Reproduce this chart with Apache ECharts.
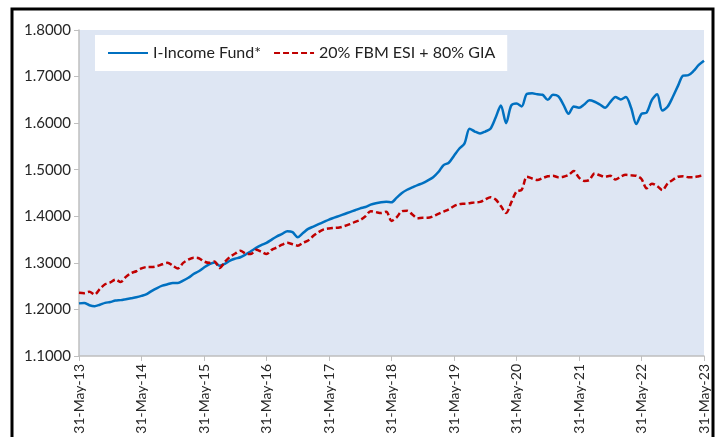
<!DOCTYPE html>
<html lang="en">
<head>
    <meta charset="UTF-8">
    <title>I-Income Fund</title>
    <script src="https://cdn.jsdelivr.net/npm/echarts@6/dist/echarts.min.js"></script>
    <style>
        body { margin: 0; background: #fff; }
    </style>
</head>
<body>
<div id="main" style="width: 719px;height:437px;"></div>
<script type="text/javascript">

    // monthly month-end dates, May 2013 .. May 2023
    var monthNames = ['Jan', 'Feb', 'Mar', 'Apr', 'May', 'Jun', 'Jul', 'Aug', 'Sep', 'Oct', 'Nov', 'Dec'];
    var monthDays = [31, 28, 31, 30, 31, 30, 31, 31, 30, 31, 30, 31];
    var startYear = 2013, startMonth = 4, monthCount = 121;

    var fundName = 'I-Income Fund*';
    var benchName = '20% FBM ESI + 80% GIA';

    var fundValues = [
        1.213, 1.214, 1.209, 1.207, 1.210, 1.214, 1.216, 1.219, 1.220, 1.222, 1.224, 1.226,
        1.229, 1.233, 1.240, 1.246, 1.251, 1.254, 1.257, 1.257, 1.262, 1.268, 1.276, 1.282,
        1.290, 1.297, 1.301, 1.294, 1.298, 1.305, 1.309, 1.312, 1.318, 1.325, 1.332, 1.338,
        1.343, 1.350, 1.357, 1.362, 1.368, 1.366, 1.355, 1.364, 1.373, 1.378, 1.383, 1.388,
        1.393, 1.397, 1.401, 1.405, 1.409, 1.413, 1.417, 1.420, 1.425, 1.428, 1.430, 1.431,
        1.430, 1.440, 1.450, 1.457, 1.462, 1.467, 1.471, 1.477, 1.484, 1.495, 1.510, 1.515,
        1.530, 1.545, 1.556, 1.588, 1.582, 1.578, 1.582, 1.588, 1.612, 1.638, 1.600, 1.638,
        1.642, 1.636, 1.663, 1.664, 1.662, 1.661, 1.650, 1.661, 1.658, 1.640, 1.620, 1.636,
        1.633, 1.640, 1.649, 1.646, 1.640, 1.633, 1.645, 1.656, 1.651, 1.656, 1.633, 1.598,
        1.620, 1.623, 1.650, 1.662, 1.627, 1.635, 1.656, 1.680, 1.702, 1.703, 1.712, 1.725,
        1.734
    ];

    var benchValues = [
        1.236, 1.235, 1.238, 1.232, 1.244, 1.254, 1.258, 1.264, 1.259, 1.270, 1.278, 1.282,
        1.288, 1.291, 1.291, 1.293, 1.297, 1.300, 1.294, 1.288, 1.300, 1.307, 1.311, 1.310,
        1.303, 1.300, 1.303, 1.289, 1.302, 1.313, 1.320, 1.326, 1.320, 1.319, 1.328, 1.324,
        1.319, 1.328, 1.333, 1.339, 1.343, 1.340, 1.337, 1.343, 1.348, 1.358, 1.366, 1.372,
        1.374, 1.375, 1.376, 1.379, 1.383, 1.388, 1.392, 1.400, 1.411, 1.409, 1.407, 1.410,
        1.390, 1.398, 1.411, 1.412, 1.404, 1.396, 1.397, 1.397, 1.400, 1.405, 1.410, 1.415,
        1.422, 1.426, 1.427, 1.428, 1.430, 1.431, 1.436, 1.441, 1.436, 1.422, 1.407, 1.430,
        1.453, 1.457, 1.485, 1.481, 1.478, 1.482, 1.486, 1.487, 1.484, 1.485, 1.489, 1.497,
        1.483, 1.476, 1.478, 1.492, 1.488, 1.485, 1.487, 1.479, 1.485, 1.489, 1.488, 1.487,
        1.480, 1.460, 1.470, 1.465, 1.456, 1.470, 1.478, 1.485, 1.486, 1.484, 1.484, 1.486,
        1.488
    ];

    var dates = [];
    for (var i = 0; i < monthCount; i++) {
        var m = (startMonth + i) % 12;
        var y = startYear + Math.floor((startMonth + i) / 12);
        var d = monthDays[m];
        if (m === 1 && y % 4 === 0) d = 29;
        dates.push(d + '-' + monthNames[m] + '-' + String(y).slice(2));
    }

    var chartDom = document.getElementById('main');
    var myChart = echarts.init(chartDom);
    var option;

    option = {
        animation: false,
        textStyle: { fontFamily: 'Lato' },
        graphic: [{
            type: 'rect',
            shape: { x: 12, y: 9, width: 701, height: 440 },
            style: { fill: 'none', stroke: '#000', lineWidth: 3 },
            silent: true
        }],
        grid: {
            left: 79, right: 15, top: 30, bottom: 81,
            show: true,
            backgroundColor: '#dee6f3',
            borderWidth: 0
        },
        legend: {
            left: 95,
            top: 35,
            padding: [10, 12, 10, 12],
            backgroundColor: '#fff',
            itemWidth: 40,
            itemHeight: 14,
            itemGap: 12,
            itemStyle: { opacity: 0 },
            textStyle: { fontSize: 16, color: '#222', fontFamily: 'Lato' },
            data: [fundName, benchName]
        },
        xAxis: {
            type: 'category',
            boundaryGap: false,
            data: dates,
            axisLine: { lineStyle: { color: '#bfbfbf', width: 1.5 } },
            axisTick: { interval: 11, length: 5, lineStyle: { color: '#bfbfbf' } },
            axisLabel: {
                interval: 11,
                rotate: 90,
                fontSize: 14,
                color: '#262626',
                margin: 8
            },
            splitLine: { show: false }
        },
        yAxis: {
            type: 'value',
            min: 1.1,
            max: 1.8,
            interval: 0.1,
            axisLine: { show: true, lineStyle: { color: '#bfbfbf', width: 1.5 } },
            axisTick: { show: true, length: 5, lineStyle: { color: '#bfbfbf' } },
            axisLabel: {
                fontSize: 15,
                color: '#262626',
                margin: 8,
                formatter: function (v) { return v.toFixed(4); }
            },
            splitLine: { show: false }
        },
        series: [
            {
                name: fundName,
                type: 'line',
                data: fundValues,
                smooth: 0.3,
                showSymbol: false,
                symbol: 'none',
                lineStyle: { color: '#0070c0', width: 2.5 },
                itemStyle: { color: '#0070c0' }
            },
            {
                name: benchName,
                type: 'line',
                data: benchValues,
                smooth: 0.3,
                showSymbol: false,
                symbol: 'none',
                lineStyle: { color: '#c00000', width: 2.5, type: [6, 3] },
                itemStyle: { color: '#c00000' }
            }
        ]
    };

    option && myChart.setOption(option);
</script>
</body>
</html>
